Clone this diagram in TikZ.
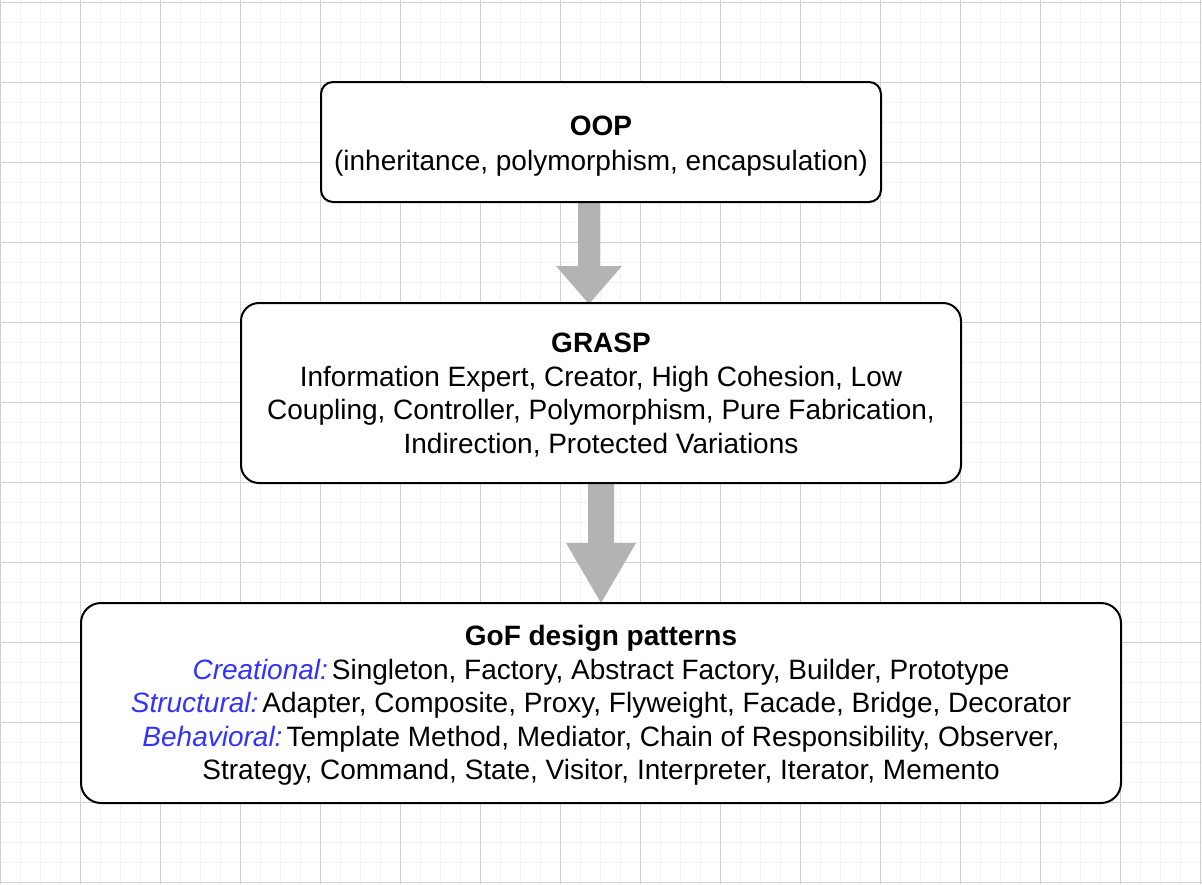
\documentclass[tikz,border=0pt]{standalone}
\usepackage{fontspec}
\setmainfont{Liberation Sans}
\usetikzlibrary{calc,backgrounds}
\definecolor{gridminor}{HTML}{F2F2F2}
\definecolor{gridmajor}{HTML}{D0D0D0}
\definecolor{arrowgray}{HTML}{B3B3B3}
\definecolor{catblue}{HTML}{3333FF}
\newcommand\patcat[1]{\textcolor{catblue}{\textit{#1}}\hspace{4pt}}
\begin{document}
\begin{tikzpicture}[x=1pt,y=-1pt,
  box/.style={draw=black, fill=white, line width=2pt, inner sep=0pt, outer sep=0pt},
  boxtext/.style={align=center, inner sep=0pt, font=\fontsize{28}{33.6}\selectfont},
  minorgrid/.style={draw=gridminor, line width=1.6pt},
  majorgrid/.style={draw=gridmajor, line width=1pt},
  blockarrow/.style={fill=arrowgray}]
\useasboundingbox (0,0) rectangle (1202,884);

\node[box, rounded corners=12pt, minimum width=560pt, minimum height=120pt] (oop) at (601,142) {};
\node[box, rounded corners=18pt, minimum width=720pt, minimum height=180pt] (grasp) at (601,393) {};
\node[box, rounded corners=20pt, minimum width=1040pt, minimum height=200pt] (gof) at (601,703) {};

\node[boxtext] (oopText) at ($(oop.center)+(0,4)$)
  {\textbf{OOP}\\[2pt](inheritance, polymorphism, encapsulation)};
\node[boxtext] (graspText) at ($(grasp.center)+(0,2)$)
  {\textbf{GRASP}\\Information Expert, Creator, High Cohesion, Low\\Coupling, Controller, Polymorphism, Pure Fabrication,\\Indirection, Protected Variations};
\node[boxtext] (gofText) at ($(gof.center)+(0,2.5)$)
  {\textbf{GoF design patterns}\\
   \patcat{Creational:}Singleton, Factory, Abstract Factory, Builder, Prototype\\
   \patcat{Structural:}Adapter, Composite, Proxy, Flyweight, Facade, Bridge, Decorator\\
   \patcat{Behavioral:}Template Method, Mediator, Chain of Responsibility, Observer,\\
   Strategy, Command, State, Visitor, Interpreter, Iterator, Memento};

\begin{scope}[on background layer]
  \fill[white] (0,0) rectangle (1202,884);
  \foreach \i in {0,...,60} \draw[minorgrid] (\i*20+0.5,0) -- (\i*20+0.5,884);
  \foreach \j in {0,...,44} \draw[minorgrid] (0,\j*20+2.5) -- (1202,\j*20+2.5);
  \foreach \i in {0,...,15} \draw[majorgrid] (\i*80+0.5,0) -- (\i*80+0.5,884);
  \foreach \j in {0,...,11} \draw[majorgrid] (0,\j*80+2.5) -- (1202,\j*80+2.5);
  \fill[blockarrow] let \p1=(oop.south), \p2=(grasp.north) in
    (\x1-23pt,\y1) -- (\x1-1pt,\y1) -- (\x1-1pt,\y2+37pt) -- (\x1+21pt,\y2+37pt)
    -- (\x1-12pt,\y2-1pt) -- (\x1-45pt,\y2+37pt) -- (\x1-23pt,\y2+37pt) -- cycle;
  \fill[blockarrow] let \p1=(grasp.south), \p2=(gof.north) in
    (\x1-13pt,\y1) -- (\x1+13pt,\y1) -- (\x1+13pt,\y2+60pt) -- (\x1+35pt,\y2+60pt)
    -- (\x1,\y2) -- (\x1-35pt,\y2+60pt) -- (\x1-13pt,\y2+60pt) -- cycle;
\end{scope}
\end{tikzpicture}
\end{document}
